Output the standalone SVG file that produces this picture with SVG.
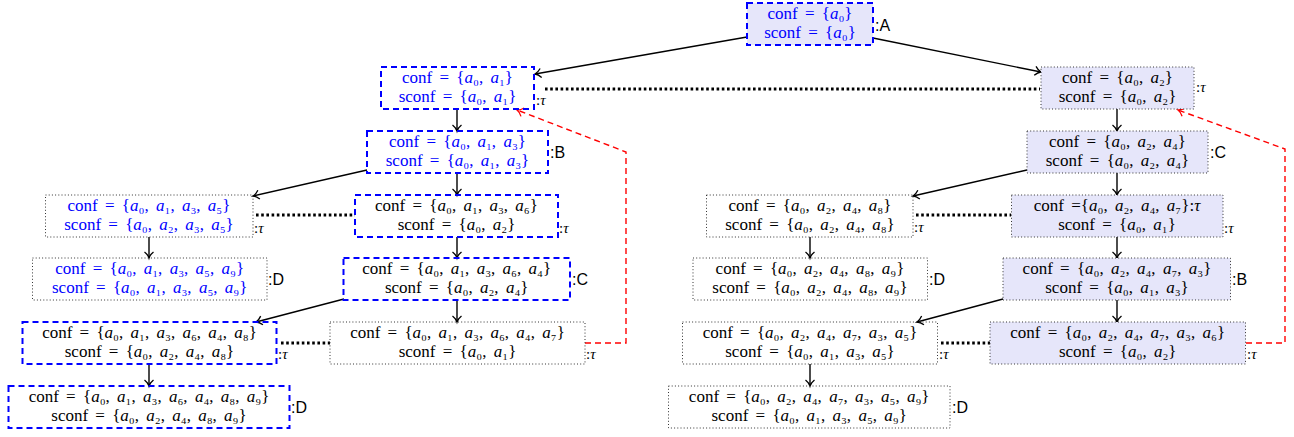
<svg xmlns="http://www.w3.org/2000/svg" width="1294" height="437" viewBox="0 0 1294 437">
<style>
text{font-family:"Liberation Serif","DejaVu Serif",serif;font-size:17px;word-spacing:3px;fill:#000;text-anchor:middle}
.bl text{fill:#0000ff}
text.lab{font-family:"Liberation Sans",Arial,sans-serif;font-size:16px;text-anchor:start;word-spacing:0;fill:#000}
text.tau{font-size:15px;text-anchor:start;word-spacing:0;fill:#000}
.i{font-style:italic}
.dash{fill:none;stroke:#0000ff;stroke-width:2;stroke-dasharray:6 4}
.dashf{fill:#e6e6fa;stroke:#0000ff;stroke-width:2;stroke-dasharray:6 4}
.dot{fill:none;stroke:#333;stroke-width:1;stroke-dasharray:1 2.2}
.dotf{fill:#e6e6fa;stroke:#333;stroke-width:1;stroke-dasharray:1 2.2}
.e{fill:none;stroke:#000;stroke-width:1.4}
.d{fill:none;stroke:#000;stroke-width:2.8;stroke-dasharray:2.6 2.6}
.r{fill:none;stroke:#ff0000;stroke-width:1.4;stroke-dasharray:6 4}
</style>
<defs>
<marker id="ah" markerUnits="userSpaceOnUse" markerWidth="14" markerHeight="14" viewBox="-8 -7 10 14" refX="0" refY="0" orient="auto">
<path d="M -6 -4.5 C -4 -2 -1.8 -0.5 0 0 C -1.8 0.5 -4 2 -6 4.5" fill="none" stroke="#000" stroke-width="1.3"/>
</marker>
<marker id="ahr" markerUnits="userSpaceOnUse" markerWidth="14" markerHeight="14" viewBox="-8 -7 10 14" refX="0" refY="0" orient="auto">
<path d="M -6 -4.5 C -4 -2 -1.8 -0.5 0 0 C -1.8 0.5 -4 2 -6 4.5" fill="none" stroke="#ff0000" stroke-width="1.3"/>
</marker>
</defs>
<rect width="1294" height="437" fill="#fff"/>

<g id="connectors">
<path class="e" marker-end="url(#ah)" d="M 747 37 L 535 74"/>
<path class="e" marker-end="url(#ah)" d="M 873 38 L 1041 72"/>
<path class="d" d="M 545 89 H 1040"/>
<path class="e" marker-end="url(#ah)" d="M 457 109 V 131"/>
<path class="e" marker-end="url(#ah)" d="M 1117 109 V 131"/>
<path class="r" marker-end="url(#ahr)" d="M 585 343 H 626 V 152 L 517 110"/>
<path class="r" marker-end="url(#ahr)" d="M 1246 343 H 1285 V 149 L 1178 110"/>
<path class="e" marker-end="url(#ah)" d="M 367 170 L 253 196"/>
<path class="e" marker-end="url(#ah)" d="M 457 173 V 195"/>
<path class="d" d="M 256 215 H 355"/>
<path class="e" marker-end="url(#ah)" d="M 149 237 V 258"/>
<path class="e" marker-end="url(#ah)" d="M 457 237 V 258"/>
<path class="e" marker-end="url(#ah)" d="M 344 299 L 256 322"/>
<path class="e" marker-end="url(#ah)" d="M 457 300 V 322"/>
<path class="d" d="M 281 343 H 330"/>
<path class="e" marker-end="url(#ah)" d="M 149 364 V 386"/>
<path class="e" marker-end="url(#ah)" d="M 1027 170 L 913 196"/>
<path class="e" marker-end="url(#ah)" d="M 1117 173 V 195"/>
<path class="d" d="M 916 215 H 1011"/>
<path class="e" marker-end="url(#ah)" d="M 810 237 V 258"/>
<path class="e" marker-end="url(#ah)" d="M 1117 237 V 258"/>
<path class="e" marker-end="url(#ah)" d="M 1003 299 L 917 322"/>
<path class="e" marker-end="url(#ah)" d="M 1117 300 V 322"/>
<path class="d" d="M 941 343 H 990"/>
<path class="e" marker-end="url(#ah)" d="M 810 364 V 386"/>
</g>

<g id="nA" class="bl">
<rect class="dashf" x="747" y="3" width="126" height="42"/>
<text x="810" y="19.3">conf = {<tspan class="i">a</tspan>₀}</text>
<text x="810" y="38.3">sconf = {<tspan class="i">a</tspan>₀}</text>
<text class="lab" x="875" y="31">:A</text>
</g>

<g id="nL1" class="bl">
<rect class="dash" x="381" y="67" width="153" height="42"/>
<text x="457.5" y="83.3">conf = {<tspan class="i">a</tspan>₀, <tspan class="i">a</tspan>₁}</text>
<text x="457.5" y="102.3">sconf = {<tspan class="i">a</tspan>₀, <tspan class="i">a</tspan>₁}</text>
</g>
<text class="tau" x="536" y="105">:<tspan class="i">τ</tspan></text>

<g id="nR1">
<rect class="dotf" x="1041" y="67" width="153" height="42"/>
<text x="1117.5" y="83.3">conf = {<tspan class="i">a</tspan>₀, <tspan class="i">a</tspan>₂}</text>
<text x="1117.5" y="102.3">sconf = {<tspan class="i">a</tspan>₀, <tspan class="i">a</tspan>₂}</text>
<text class="tau" x="1196" y="92">:<tspan class="i">τ</tspan></text>
</g>

<g id="nL2" class="bl">
<rect class="dash" x="367" y="131" width="181" height="42"/>
<text x="457.5" y="147.3">conf = {<tspan class="i">a</tspan>₀, <tspan class="i">a</tspan>₁, <tspan class="i">a</tspan>₃}</text>
<text x="457.5" y="166.3">sconf = {<tspan class="i">a</tspan>₀, <tspan class="i">a</tspan>₁, <tspan class="i">a</tspan>₃}</text>
</g>
<text class="lab" x="550" y="158">:B</text>

<g id="nR2">
<rect class="dotf" x="1027" y="131" width="181" height="42"/>
<text x="1117.5" y="147.3">conf = {<tspan class="i">a</tspan>₀, <tspan class="i">a</tspan>₂, <tspan class="i">a</tspan>₄}</text>
<text x="1117.5" y="166.3">sconf = {<tspan class="i">a</tspan>₀, <tspan class="i">a</tspan>₂, <tspan class="i">a</tspan>₄}</text>
<text class="lab" x="1210" y="158">:C</text>
</g>

<g id="nL3a" class="bl">
<rect class="dot" x="45.5" y="195" width="207.5" height="42"/>
<text x="149" y="211.3">conf = {<tspan class="i">a</tspan>₀, <tspan class="i">a</tspan>₁, <tspan class="i">a</tspan>₃, <tspan class="i">a</tspan>₅}</text>
<text x="149" y="230.3">sconf = {<tspan class="i">a</tspan>₀, <tspan class="i">a</tspan>₂, <tspan class="i">a</tspan>₃, <tspan class="i">a</tspan>₅}</text>
</g>
<text class="tau" x="254" y="233">:<tspan class="i">τ</tspan></text>

<g id="nL3b">
<rect class="dash" x="355" y="195" width="203" height="42"/>
<text x="456.5" y="211.3">conf = {<tspan class="i">a</tspan>₀, <tspan class="i">a</tspan>₁, <tspan class="i">a</tspan>₃, <tspan class="i">a</tspan>₆}</text>
<text x="456.5" y="230.3">sconf = {<tspan class="i">a</tspan>₀, <tspan class="i">a</tspan>₂}</text>
<text class="tau" x="559" y="233">:<tspan class="i">τ</tspan></text>
</g>

<g id="nR3a">
<rect class="dot" x="706.5" y="195" width="206.5" height="42"/>
<text x="810" y="211.3">conf = {<tspan class="i">a</tspan>₀, <tspan class="i">a</tspan>₂, <tspan class="i">a</tspan>₄, <tspan class="i">a</tspan>₈}</text>
<text x="810" y="230.3">sconf = {<tspan class="i">a</tspan>₀, <tspan class="i">a</tspan>₂, <tspan class="i">a</tspan>₄, <tspan class="i">a</tspan>₈}</text>
<text class="tau" x="914" y="232">:<tspan class="i">τ</tspan></text>
</g>

<g id="nR3b">
<rect class="dotf" x="1011.5" y="195" width="211.5" height="42"/>
<text x="1117" y="211.3">conf ={<tspan class="i">a</tspan>₀, <tspan class="i">a</tspan>₂, <tspan class="i">a</tspan>₄, <tspan class="i">a</tspan>₇}:<tspan class="i">τ</tspan></text>
<text x="1117" y="230.3">sconf = {<tspan class="i">a</tspan>₀, <tspan class="i">a</tspan>₁}</text>
<text class="tau" x="1224" y="233">:<tspan class="i">τ</tspan></text>
</g>

<g id="nL4a" class="bl">
<rect class="dot" x="32.5" y="258" width="234.5" height="42"/>
<text x="149.7" y="274.3">conf = {<tspan class="i">a</tspan>₀, <tspan class="i">a</tspan>₁, <tspan class="i">a</tspan>₃, <tspan class="i">a</tspan>₅, <tspan class="i">a</tspan>₉}</text>
<text x="149.7" y="293.3">sconf = {<tspan class="i">a</tspan>₀, <tspan class="i">a</tspan>₁, <tspan class="i">a</tspan>₃, <tspan class="i">a</tspan>₅, <tspan class="i">a</tspan>₉}</text>
</g>
<text class="lab" x="268" y="285">:D</text>

<g id="nL4b">
<rect class="dash" x="343.5" y="258" width="226.5" height="42"/>
<text x="456.7" y="274.3">conf = {<tspan class="i">a</tspan>₀, <tspan class="i">a</tspan>₁, <tspan class="i">a</tspan>₃, <tspan class="i">a</tspan>₆, <tspan class="i">a</tspan>₄}</text>
<text x="456.7" y="293.3">sconf = {<tspan class="i">a</tspan>₀, <tspan class="i">a</tspan>₂, <tspan class="i">a</tspan>₄}</text>
<text class="lab" x="572" y="285">:C</text>
</g>

<g id="nR4a">
<rect class="dot" x="693" y="258" width="234.5" height="42"/>
<text x="810" y="274.3">conf = {<tspan class="i">a</tspan>₀, <tspan class="i">a</tspan>₂, <tspan class="i">a</tspan>₄, <tspan class="i">a</tspan>₈, <tspan class="i">a</tspan>₉}</text>
<text x="810" y="293.3">sconf = {<tspan class="i">a</tspan>₀, <tspan class="i">a</tspan>₂, <tspan class="i">a</tspan>₄, <tspan class="i">a</tspan>₈, <tspan class="i">a</tspan>₉}</text>
<text class="lab" x="929" y="285">:D</text>
</g>

<g id="nR4b">
<rect class="dotf" x="1003" y="258" width="227.5" height="42"/>
<text x="1117" y="274.3">conf = {<tspan class="i">a</tspan>₀, <tspan class="i">a</tspan>₂, <tspan class="i">a</tspan>₄, <tspan class="i">a</tspan>₇, <tspan class="i">a</tspan>₃}</text>
<text x="1117" y="293.3">sconf = {<tspan class="i">a</tspan>₀, <tspan class="i">a</tspan>₁, <tspan class="i">a</tspan>₃}</text>
<text class="lab" x="1232" y="285">:B</text>
</g>

<g id="nL5a">
<rect class="dash" x="22.5" y="322" width="254" height="42"/>
<text x="149.5" y="338.3">conf = {<tspan class="i">a</tspan>₀, <tspan class="i">a</tspan>₁, <tspan class="i">a</tspan>₃, <tspan class="i">a</tspan>₆, <tspan class="i">a</tspan>₄, <tspan class="i">a</tspan>₈}</text>
<text x="149.5" y="357.3">sconf = {<tspan class="i">a</tspan>₀, <tspan class="i">a</tspan>₂, <tspan class="i">a</tspan>₄, <tspan class="i">a</tspan>₈}</text>
<text class="tau" x="278" y="359">:<tspan class="i">τ</tspan></text>
</g>

<g id="nL5b">
<rect class="dot" x="330" y="322" width="255" height="42"/>
<text x="457.5" y="338.3">conf = {<tspan class="i">a</tspan>₀, <tspan class="i">a</tspan>₁, <tspan class="i">a</tspan>₃, <tspan class="i">a</tspan>₆, <tspan class="i">a</tspan>₄, <tspan class="i">a</tspan>₇}</text>
<text x="457.5" y="357.3">sconf = {<tspan class="i">a</tspan>₀, <tspan class="i">a</tspan>₁}</text>
<text class="tau" x="586" y="359">:<tspan class="i">τ</tspan></text>
</g>

<g id="nR5a">
<rect class="dot" x="682.5" y="322" width="255" height="42"/>
<text x="810" y="338.3">conf = {<tspan class="i">a</tspan>₀, <tspan class="i">a</tspan>₂, <tspan class="i">a</tspan>₄, <tspan class="i">a</tspan>₇, <tspan class="i">a</tspan>₃, <tspan class="i">a</tspan>₅}</text>
<text x="810" y="357.3">sconf = {<tspan class="i">a</tspan>₀, <tspan class="i">a</tspan>₁, <tspan class="i">a</tspan>₃, <tspan class="i">a</tspan>₅}</text>
<text class="tau" x="939" y="359">:<tspan class="i">τ</tspan></text>
</g>

<g id="nR5b">
<rect class="dotf" x="990" y="322" width="255.5" height="42"/>
<text x="1117.7" y="338.3">conf = {<tspan class="i">a</tspan>₀, <tspan class="i">a</tspan>₂, <tspan class="i">a</tspan>₄, <tspan class="i">a</tspan>₇, <tspan class="i">a</tspan>₃, <tspan class="i">a</tspan>₆}</text>
<text x="1117.7" y="357.3">sconf = {<tspan class="i">a</tspan>₀, <tspan class="i">a</tspan>₂}</text>
<text class="tau" x="1247" y="359">:<tspan class="i">τ</tspan></text>
</g>

<g id="nL6">
<rect class="dash" x="8.5" y="386" width="281" height="42"/>
<text x="149" y="402.3">conf = {<tspan class="i">a</tspan>₀, <tspan class="i">a</tspan>₁, <tspan class="i">a</tspan>₃, <tspan class="i">a</tspan>₆, <tspan class="i">a</tspan>₄, <tspan class="i">a</tspan>₈, <tspan class="i">a</tspan>₉}</text>
<text x="149" y="421.3">sconf = {<tspan class="i">a</tspan>₀, <tspan class="i">a</tspan>₂, <tspan class="i">a</tspan>₄, <tspan class="i">a</tspan>₈, <tspan class="i">a</tspan>₉}</text>
<text class="lab" x="291" y="413">:D</text>
</g>

<g id="nR6">
<rect class="dot" x="668.5" y="386" width="281.5" height="42"/>
<text x="809.2" y="402.3">conf = {<tspan class="i">a</tspan>₀, <tspan class="i">a</tspan>₂, <tspan class="i">a</tspan>₄, <tspan class="i">a</tspan>₇, <tspan class="i">a</tspan>₃, <tspan class="i">a</tspan>₅, <tspan class="i">a</tspan>₉}</text>
<text x="809.2" y="421.3">sconf = {<tspan class="i">a</tspan>₀, <tspan class="i">a</tspan>₁, <tspan class="i">a</tspan>₃, <tspan class="i">a</tspan>₅, <tspan class="i">a</tspan>₉}</text>
<text class="lab" x="952" y="413">:D</text>
</g>
</svg>
